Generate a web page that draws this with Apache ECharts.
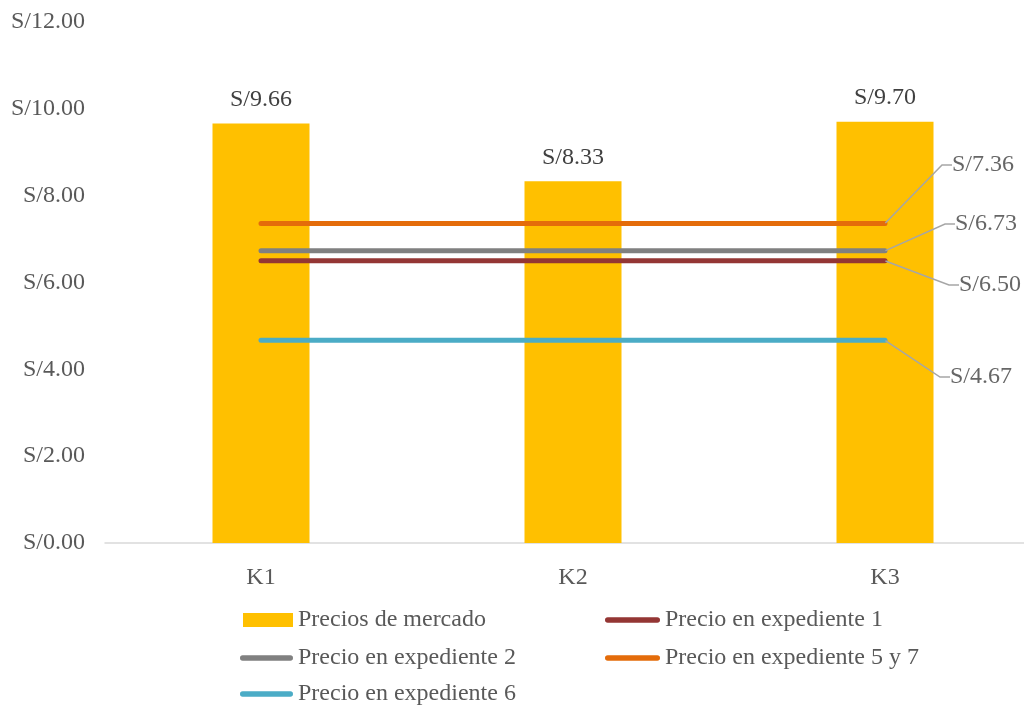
<!DOCTYPE html>
<html><head><meta charset="utf-8">
<script src="https://cdn.jsdelivr.net/npm/echarts@6/dist/echarts.min.js"></script>
<style>html,body{margin:0;padding:0;background:#fff}#c{width:1024px;height:706px}</style>
</head><body><div id="c"></div>
<script>
const categories = ['K1', 'K2', 'K3'];
const mercado = [9.66, 8.33, 9.70];
const exp1 = [6.50, 6.50, 6.50];
const exp2 = [6.73, 6.73, 6.73];
const exp57 = [7.36, 7.36, 7.36];
const exp6 = [4.67, 4.67, 4.67];
const yTicks = [0, 2, 4, 6, 8, 10, 12];

const FONT = 'Liberation Serif';
const FS = 24;
const fmt = v => 'S/' + Number(v).toFixed(2);
const LINE_ICON = 'path://M2.5,0 L47.5,0 A2.5,2.5 0 0 1 47.5,5 L2.5,5 A2.5,2.5 0 0 1 2.5,0 Z';

const lines = [
  {name: 'Precio en expediente 1', values: exp1, color: '#943634', z: 3, lx: 951, ly: 285},
  {name: 'Precio en expediente 2', values: exp2, color: '#808080', z: 4, lx: 947, ly: 224},
  {name: 'Precio en expediente 5 y 7', values: exp57, color: '#E46C0A', z: 3, lx: 944, ly: 165},
  {name: 'Precio en expediente 6', values: exp6, color: '#4BACC6', z: 3, lx: 942, ly: 377}
];
const last = categories.length - 1;

const chart = echarts.init(document.getElementById('c'));

const series = [
  {name: 'Precios de mercado', type: 'bar', data: mercado, barWidth: 97, z: 1,
   itemStyle: {color: '#FFC000'},
   label: {show: true, position: 'top', distance: 12, formatter: p => fmt(p.value), fontFamily: FONT, fontSize: FS, color: '#404040'},
   emphasis: {disabled: true}}
];
lines.forEach(l => series.push({
  name: l.name, type: 'line', data: l.values, symbol: 'none', z: l.z,
  lineStyle: {color: l.color, width: 5, cap: 'round'},
  itemStyle: {color: l.color},
  emphasis: {disabled: true}
}));
series.push({
  name: 'labels', type: 'scatter', z: 6, symbolSize: 1,
  itemStyle: {color: 'rgba(0,0,0,0)'},
  data: lines.map(l => ({value: [last, l.values[last]]})),
  label: {show: true, position: 'right', formatter: p => fmt(p.value[1]), fontFamily: FONT, fontSize: FS, color: '#404040', padding: [0, 0, 0, 8]},
  labelLine: {show: true, length2: 10, lineStyle: {color: '#A6A6A6', width: 1.5}},
  labelLayout: p => ({x: lines[p.dataIndex].lx, y: lines[p.dataIndex].ly, align: 'left', verticalAlign: 'middle'}),
  emphasis: {disabled: true}, silent: true
});

const legendText = {fontFamily: FONT, fontSize: FS, color: '#595959'};
const legendItems = [
  {name: 'Precios de mercado', icon: 'rect', left: 243, top: 608, w: 50},
  {name: 'Precio en expediente 1', icon: LINE_ICON, left: 605, top: 608, w: 55},
  {name: 'Precio en expediente 2', icon: LINE_ICON, left: 240, top: 646, w: 53},
  {name: 'Precio en expediente 5 y 7', icon: LINE_ICON, left: 605, top: 646, w: 55},
  {name: 'Precio en expediente 6', icon: LINE_ICON, left: 240, top: 682, w: 53}
];

chart.setOption({
  animation: false,
  grid: {left: 105, top: 22, width: 936, height: 521, containLabel: false, outerBoundsMode: 'none'},
  xAxis: {
    type: 'category', data: categories,
    axisLine: {lineStyle: {color: '#D9D9D9', width: 1.5}},
    axisTick: {show: false},
    axisLabel: {fontFamily: FONT, fontSize: FS, color: '#595959', margin: 23}
  },
  yAxis: {
    type: 'value', min: yTicks[0], max: yTicks[yTicks.length - 1], interval: 2,
    axisLine: {show: false}, axisTick: {show: false}, splitLine: {show: false},
    axisLabel: {fontFamily: FONT, fontSize: FS, color: '#595959', margin: 20, formatter: v => fmt(v)}
  },
  legend: legendItems.map(it => ({
    left: it.left, top: it.top, padding: 0, itemWidth: it.w, itemHeight: 14,
    textStyle: legendText, data: [{name: it.name, icon: it.icon}]
  })),
  series: series
});
</script></body></html>
